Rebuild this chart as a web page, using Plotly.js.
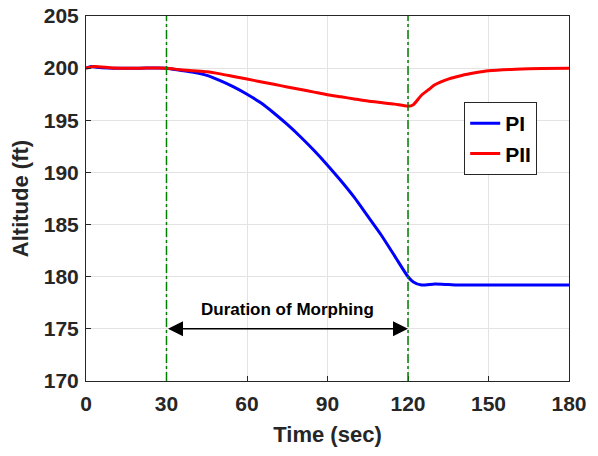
<!DOCTYPE html>
<html><head><meta charset="utf-8">
<script src="https://cdn.plot.ly/plotly-3.0.1.min.js"></script>
<style>body{margin:0}#c{width:598px;height:456px}</style>
</head><body><div id="c"></div>
<script>
const timePI = [0,2,5,10,20,30,35,40,45,50,55,60,65,70,75,80,85,90,95,100,105,110,115,120,122,125,130,135,140,180];
const altPI = [200,200.15,200.05,200,200,200,199.8,199.6,199.3,198.8,198.2,197.5,196.7,195.7,194.6,193.4,192.1,190.7,189.2,187.6,185.8,184.0,182.0,180.0,179.5,179.2,179.3,179.25,179.2,179.2];
const timePII = [0,3,10,20,30,35,40,45,50,55,60,65,70,75,80,85,90,95,100,105,110,115,120,122,125,128,130,135,140,145,150,160,170,180];
const altPII = [200,200.15,200.02,200,200,199.85,199.75,199.65,199.45,199.2,198.95,198.7,198.45,198.2,197.95,197.7,197.45,197.25,197.05,196.85,196.7,196.55,196.35,196.5,197.4,198.0,198.4,198.95,199.3,199.55,199.75,199.9,199.97,200];
const xTicks = [0,30,60,90,120,150,180];
const yTicks = [170,175,180,185,190,195,200,205];
const morphStart = 30, morphEnd = 120, arrowY = 175;

const font = {family:'Liberation Sans, Arial, sans-serif', color:'#262626'};
const traces = [
  {x:timePI, y:altPI, mode:'lines', name:'PI', line:{color:'#0000ff', width:3, shape:'spline', smoothing:0.6}},
  {x:timePII, y:altPII, mode:'lines', name:'PII', line:{color:'#ff0000', width:3, shape:'spline', smoothing:0.6}}
];
const axisCommon = {showline:true, mirror:true, linecolor:'#262626', linewidth:1, ticks:'inside', ticklen:5, tickcolor:'#262626',
  showgrid:true, gridcolor:'#e3e3e3', gridwidth:1, zeroline:false, tickfont:{...font, size:21, weight:'bold'}};
const layout = {
  width:598, height:456, margin:{l:86, r:29, t:16, b:75},
  paper_bgcolor:'#fff', plot_bgcolor:'#fff', font:font,
  xaxis:{...axisCommon, range:[0,180], tickvals:xTicks, ticktext:xTicks.map(String), ticklabelstandoff:4,
    title:{text:'<b>Time (sec)</b>', font:{...font, size:22}, standoff:12}},
  yaxis:{...axisCommon, range:[170,205], tickvals:yTicks, ticktext:yTicks.map(String), ticklabelstandoff:2,
    title:{text:'<b>Altitude (ft)</b>', font:{...font, size:22}, standoff:9}},
  legend:{x:0.783, y:0.764, xanchor:'left', yanchor:'top', bgcolor:'#fff', bordercolor:'#262626', borderwidth:1,
    font:{family:font.family, color:'#000', size:21, weight:'bold'}, tracegroupgap:0, entrywidth:60},
  shapes:[
    {type:'line', xref:'x', yref:'paper', x0:morphStart, x1:morphStart, y0:0, y1:1, line:{color:'#008000', width:1.5, dash:'dashdot'}},
    {type:'line', xref:'x', yref:'paper', x0:morphEnd, x1:morphEnd, y0:0, y1:1, line:{color:'#008000', width:1.5, dash:'dashdot'}}
  ],
  annotations:[
    {x:morphEnd, y:arrowY, ax:morphStart, ay:arrowY, xref:'x', yref:'y', axref:'x', ayref:'y', text:'', showarrow:true,
      arrowhead:2, startarrowhead:2, arrowside:'end+start', arrowsize:2, startarrowsize:2, arrowwidth:1.5, arrowcolor:'#000'},
    {x:(morphStart+morphEnd)/2, y:arrowY, xref:'x', yref:'y', yshift:19, text:'<b>Duration of Morphing</b>', showarrow:false,
      font:{family:font.family, color:'#000', size:17}}
  ]
};
Plotly.newPlot('c', traces, layout, {displayModeBar:false, staticPlot:true});
</script></body></html>
